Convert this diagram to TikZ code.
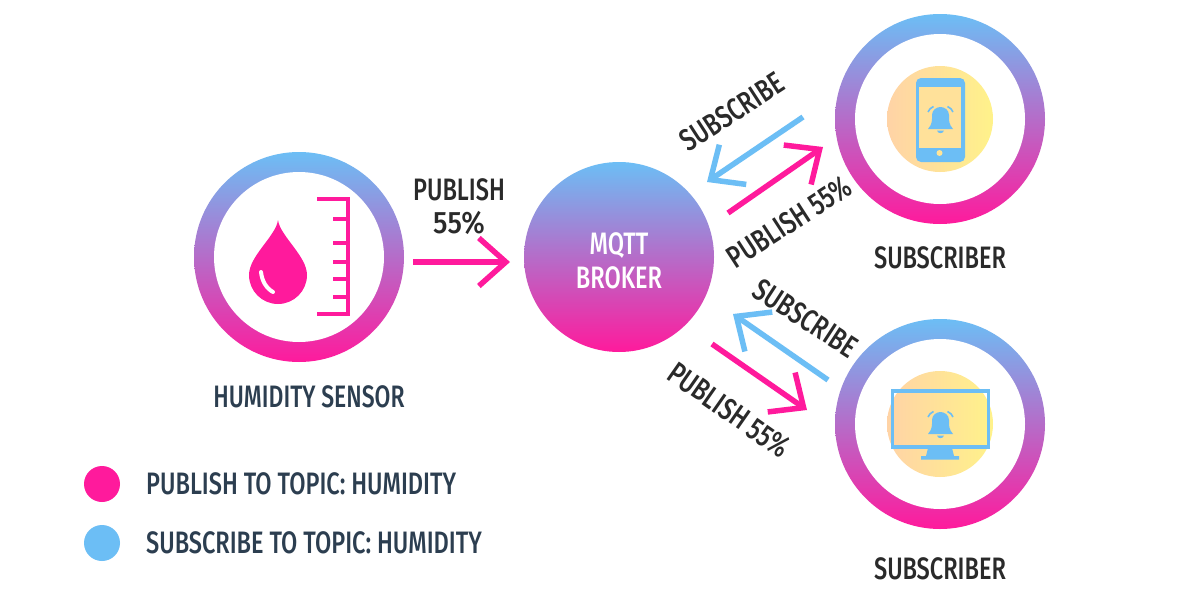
\documentclass[tikz,border=0pt]{standalone}
\usepackage{fontspec}
\usetikzlibrary{arrows.meta}
\newfontfamily\labfont[FakeStretch=0.76]{Fira Sans Medium}
\definecolor{pinkc}{HTML}{FF1A9C}
\definecolor{bluec}{HTML}{6CBEF5}
\definecolor{inkc}{HTML}{2A2A2A}
\definecolor{navyc}{HTML}{2C3E50}
\definecolor{peachc}{HTML}{FFD3A6}
\definecolor{yellowc}{HTML}{FFF28A}
\tikzset{
  x=1pt,y=-1pt,
  ring/.style={circle,inner sep=0pt,minimum size=210pt,top color=bluec,bottom color=pinkc},
  hole/.style={circle,inner sep=0pt,minimum size=170pt,fill=white},
  halo/.style={circle,inner sep=0pt,minimum size=106pt,left color=peachc,right color=yellowc},
  lab/.style={inner sep=0pt,text=inkc,font=\labfont\fontsize{31}{32}\selectfont},
  navylab/.style={lab,text=navyc},
  whitelab/.style={lab,text=white},
  pubarrow/.style={draw=pinkc,line width=5.5pt,-{Straight Barb[length=27pt,width=48pt]}},
  subarrow/.style={draw=bluec,line width=5.5pt,-{Straight Barb[length=27pt,width=48pt]}},
  legdot/.style={circle,inner sep=0pt,minimum size=36pt},
  bellicon/.pic={
    \fill[bluec] (-12.5,9) .. controls (-8,4) and (-8.5,0) .. (-8.5,-5)
      .. controls (-8.5,-10) and (-4,-13) .. (0,-13)
      .. controls (4,-13) and (8.5,-10) .. (8.5,-5)
      .. controls (8.5,0) and (8,4) .. (12.5,9) -- cycle;
    \fill[bluec] (-3.5,10.5) .. controls (-3,14) and (3,14) .. (3.5,10.5) -- cycle;
    \draw[bluec,line width=1.6pt] (-12.5,-8) .. controls (-11.5,-10.5) and (-10,-12) .. (-7,-13.5);
    \draw[bluec,line width=1.6pt] (12.5,-8) .. controls (11.5,-10.5) and (10,-12) .. (7,-13.5);
  }
}
\begin{document}
\begin{tikzpicture}
\useasboundingbox (0,0) rectangle (1200,600);
\fill[white] (0,0) rectangle (1200,600);
% rings
\node[ring] (sensor) at (299,257) {};
\node[hole] (sensorhole) at (299,257) {};
\node[ring,minimum size=190pt] (broker) at (619,257) {};
\node[ring] (subA) at (940,119) {};
\node[hole] (subAhole) at (940,119) {};
\node[halo] (haloA) at (940,119) {};
\node[ring] (subB) at (940,424) {};
\node[hole] (subBhole) at (940,424) {};
\node[halo] (haloB) at (940,424) {};
% drop
\fill[pinkc] (278,220) .. controls (280,236) and (307,256) .. (307,275)
  .. controls (307,291) and (294,304) .. (278,304)
  .. controls (262,304) and (249,291) .. (249,275)
  .. controls (249,256) and (276,236) .. (278,220) -- cycle;
\draw[white,line width=4pt,line cap=round] (261,272) .. controls (262,281) and (266,288) .. (273,292);
% scale
\draw[pinkc,line width=4pt] (317,199) -- (348,199) -- (348,314) -- (317,314);
\foreach \ty in {219,243,262,279,297} \draw[pinkc,line width=4pt] (333,\ty) -- (348,\ty);
% phone
\fill[bluec,rounded corners=5pt] (916,78) rectangle (965,162);
\fill[peachc!55!yellowc] (919,87) rectangle (961,148);
\fill[yellowc!55!peachc] (939.5,153) circle[radius=3];
\pic at (940.5,120) {bellicon};
% monitor
\draw[bluec,line width=3.5pt] (892.5,391) rectangle (988.5,447);
\fill[bluec] (928,448) -- (952,448) -- (954,456) -- (959,456) -- (959,459.5) -- (921,459.5) -- (921,456) -- (926,456) -- cycle;
\pic at (940.5,425) {bellicon};
% connector ends
\coordinate (pubS) at (413,262);
\coordinate (pubT) at (510,262);
\coordinate (aSubS) at (803,117);
\coordinate (aSubT) at (707,182);
\coordinate (aPubS) at (728,213);
\coordinate (aPubT) at (823,147);
\coordinate (bSubS) at (828,380);
\coordinate (bSubT) at (733,314);
\coordinate (bPubS) at (712,344);
\coordinate (bPubT) at (807,410);
\draw[pubarrow] (pubS) -- (pubT);
\draw[subarrow] (aSubS) -- (aSubT);
\draw[pubarrow] (aPubS) -- (aPubT);
\draw[subarrow] (bSubS) -- (bSubT);
\draw[pubarrow] (bPubS) -- (bPubT);
% labels
\node[whitelab] (mqtt) at (619,246) {MQTT};
\node[whitelab] (brokername) at (619,278) {BROKER};
\node[lab] (pub1) at (459,190) {PUBLISH};
\node[lab,xscale=1.18] (pct1) at (459,223) {55\%};
\node[lab,rotate=33] (tA1) at (732,112) {SUBSCRIBE};
\node[lab,rotate=33] (tA2) at (789,222) {PUBLISH 55\%};
\node[lab,rotate=-33] (tB1) at (806,318) {SUBSCRIBE};
\node[lab,rotate=-35] (tB2) at (729,410) {PUBLISH 55\%};
\node[lab] (subAname) at (940,258) {SUBSCRIBER};
\node[lab] (subBname) at (940,569) {SUBSCRIBER};
\node[navylab,xscale=0.975] (sensorname) at (309,397) {HUMIDITY SENSOR};
% legend
\node[legdot,fill=pinkc] (legP) at (102,484) {};
\node[legdot,fill=bluec] (legS) at (102,543) {};
\node[navylab,anchor=west] (legPt) at (146,484) {PUBLISH TO TOPIC: HUMIDITY};
\node[navylab,anchor=west] (legSt) at (146,543) {SUBSCRIBE TO TOPIC: HUMIDITY};
\end{tikzpicture}
\end{document}
